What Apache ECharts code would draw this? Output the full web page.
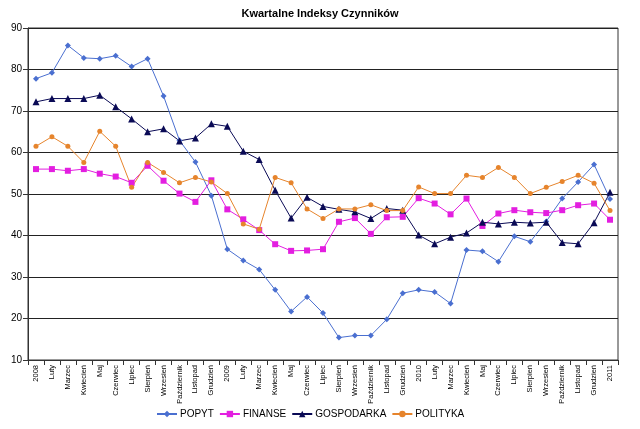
<!DOCTYPE html>
<html>
<head>
<meta charset="utf-8">
<script src="https://cdn.jsdelivr.net/npm/echarts@6/dist/echarts.min.js"></script>
<style>
html, body { margin: 0; padding: 0; background: #fff; }
#main { width: 640px; height: 429px; }
</style>
</head>
<body>
<div id="main"></div>
<script>
const months = ['Luty', 'Marzec', 'Kwiecień', 'Maj', 'Czerwiec', 'Lipiec', 'Sierpień', 'Wrzesień', 'Październik', 'Listopad', 'Grudzień'];
const categories = ['2008', ...months, '2009', ...months, '2010', ...months, '2011'];

const popyt = [77.8, 79.2, 85.8, 82.8, 82.6, 83.3, 80.7, 82.6, 73.6, 62.9, 57.7, 49.6,
    36.7, 34.0, 31.8, 26.9, 21.7, 25.2, 21.3, 15.4, 15.9, 15.9, 19.8, 26.1,
    26.9, 26.4, 23.6, 36.5, 36.2, 33.7, 39.8, 38.5, 43.4, 48.9, 52.9, 57.1, 48.8];
const finanse = [56.0, 56.0, 55.6, 56.0, 54.9, 54.2, 52.7, 56.8, 53.2, 50.1, 48.1, 53.3,
    46.3, 43.9, 41.3, 37.9, 36.3, 36.4, 36.7, 43.3, 44.2, 40.4, 44.4, 44.5,
    49.0, 47.7, 45.1, 48.9, 42.3, 45.3, 46.1, 45.6, 45.4, 46.1, 47.3, 47.7, 43.8];
const gospodarka = [72.2, 73.0, 73.0, 73.0, 73.8, 71.0, 68.1, 65.0, 65.7, 62.8, 63.5, 66.9,
    66.3, 60.3, 58.3, 50.9, 44.2, 49.2, 47.0, 46.3, 45.7, 44.1, 46.5, 46.1,
    40.1, 38.0, 39.6, 40.6, 43.2, 42.8, 43.2, 43.0, 43.2, 38.3, 38.0, 43.1, 50.4];
const polityka = [61.5, 63.8, 61.5, 57.6, 65.1, 61.5, 51.6, 57.6, 55.2, 52.7, 54.0, 52.9,
    50.1, 42.8, 41.5, 54.0, 52.7, 46.4, 44.1, 46.4, 46.4, 47.4, 46.0, 46.0,
    51.7, 50.1, 50.1, 54.5, 54.0, 56.4, 54.0, 50.1, 51.6, 53.0, 54.5, 52.6, 46.0];

const chart = echarts.init(document.getElementById('main'));

function line(name, data, color, symbol, size) {
    return {
        name: name,
        type: 'line',
        data: data,
        symbol: symbol,
        symbolSize: size,
        itemStyle: { color: color },
        lineStyle: { color: color, width: 1 },
        animation: false
    };
}

chart.setOption({
    title: {
        text: 'Kwartalne Indeksy Czynników',
        left: 'center',
        top: 3,
        textStyle: { fontFamily: 'Liberation Sans', fontSize: 11, fontWeight: 'bold', color: '#000' }
    },
    legend: {
        bottom: 5,
        left: 151,
        itemWidth: 20,
        itemHeight: 8,
        itemGap: 5,
        textStyle: { fontFamily: 'Liberation Sans', fontSize: 10, color: '#000', padding: [0, 0, 0, -2] },
        data: ['POPYT', 'FINANSE', 'GOSPODARKA', 'POLITYKA']
    },
    grid: {
        left: 28,
        right: 22,
        top: 28,
        bottom: 69,
        show: true,
        borderColor: '#333',
        borderWidth: 1
    },
    xAxis: {
        type: 'category',
        data: categories,
        boundaryGap: true,
        axisLine: { lineStyle: { color: '#333' } },
        axisTick: { show: true, interval: 0, lineStyle: { color: '#333' } },
        axisLabel: {
            interval: 0,
            rotate: 90,
            fontFamily: 'Liberation Sans',
            fontSize: 7.5,
            color: '#000',
            margin: 5
        }
    },
    yAxis: {
        type: 'value',
        min: 10,
        max: 90,
        interval: 10,
        axisLine: { show: true, lineStyle: { color: '#333' } },
        axisTick: { show: true, lineStyle: { color: '#333' } },
        axisLabel: { fontFamily: 'Liberation Sans', fontSize: 10, color: '#000', margin: 6 },
        splitLine: { lineStyle: { color: '#222', width: 1 } }
    },
    series: [
        line('POPYT', popyt, '#4a6fd0', 'diamond', 6),
        line('FINANSE', finanse, '#e31ee0', 'rect', 6),
        line('GOSPODARKA', gospodarka, '#0a0a55', 'triangle', 7),
        line('POLITYKA', polityka, '#e6842c', 'circle', 5)
    ]
});
</script>
</body>
</html>
